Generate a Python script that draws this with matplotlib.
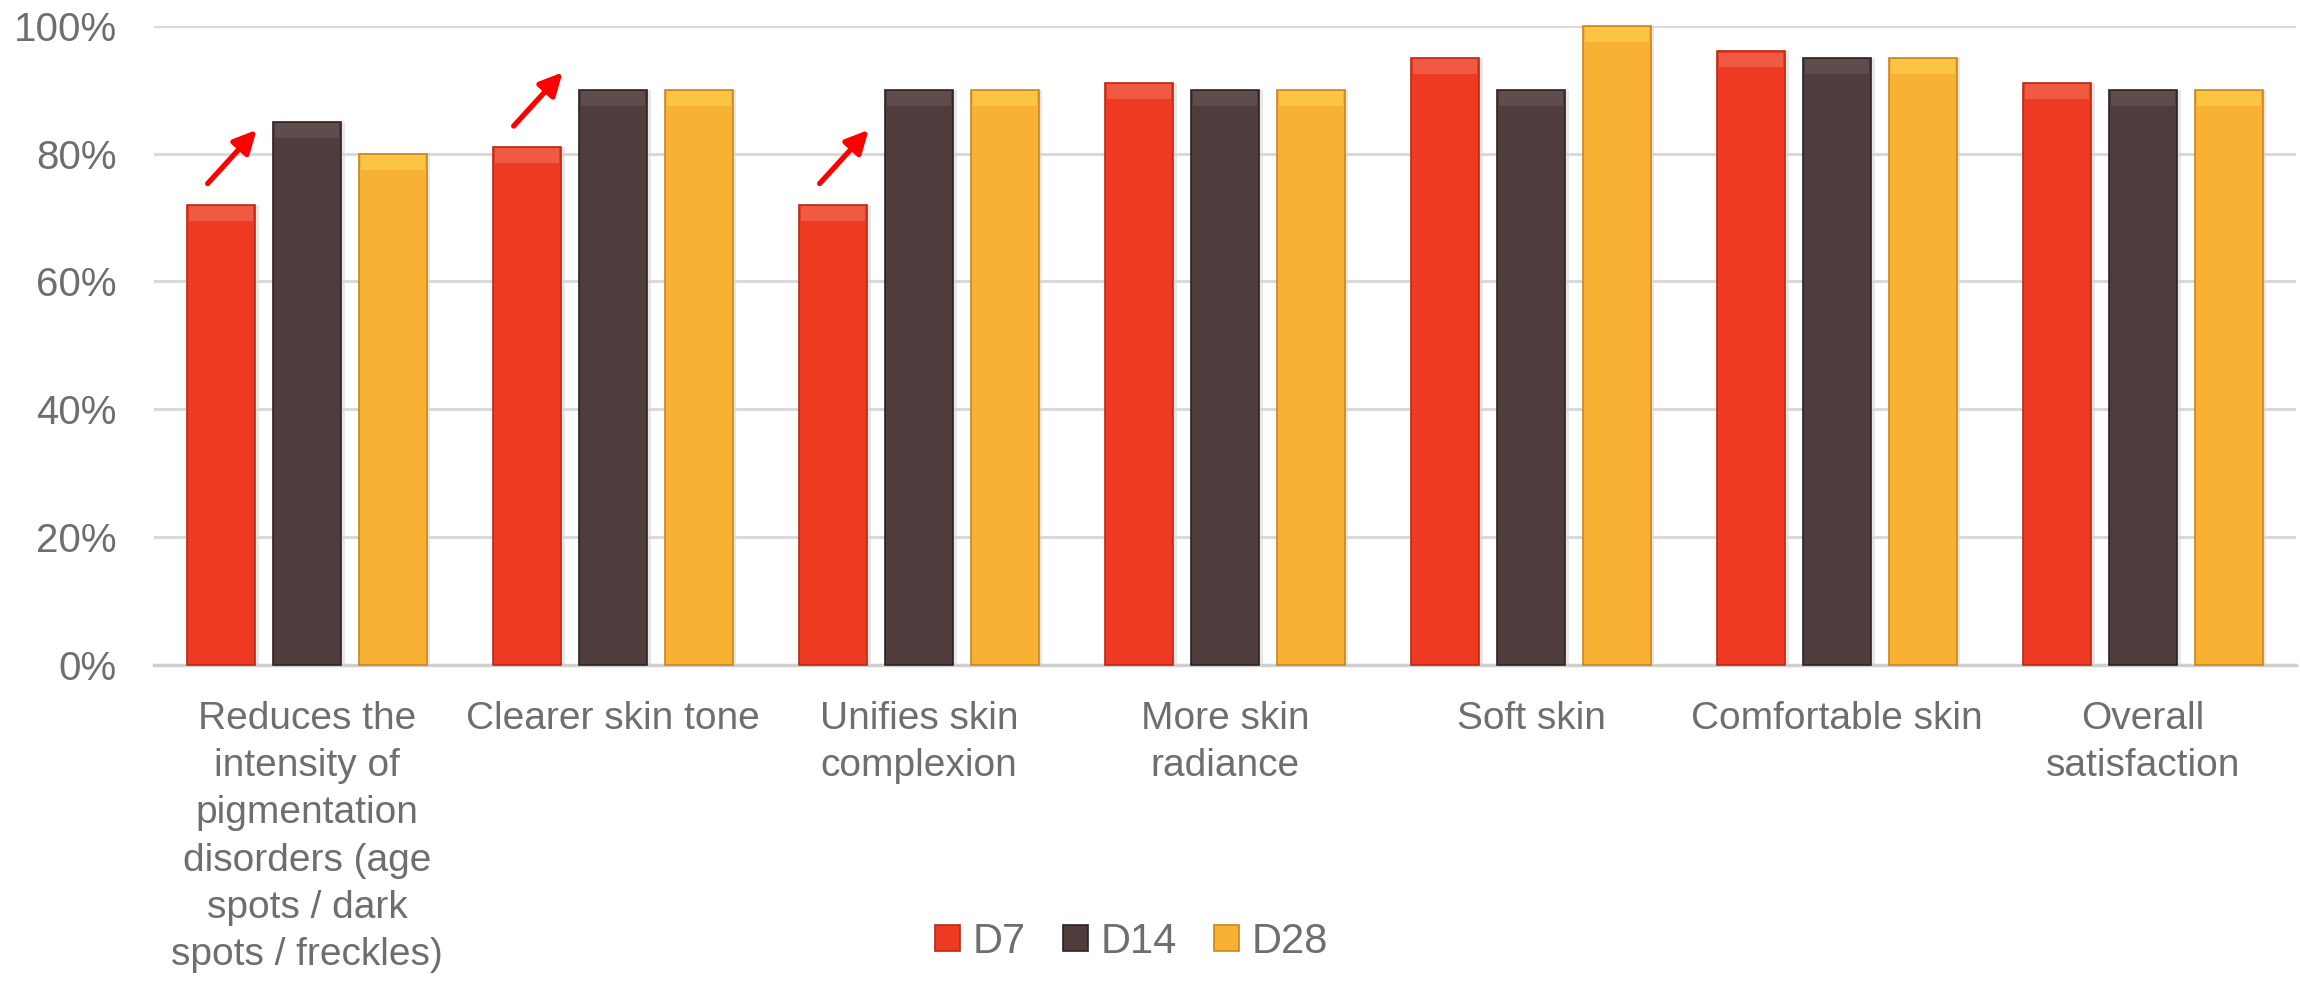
import numpy as np
import matplotlib.pyplot as plt

# Données (% de satisfaction)
categories = ['Reduces the\nintensity of\npigmentation\ndisorders (age\nspots / dark\nspots / freckles)',
              'Clearer skin tone', 'Unifies skin\ncomplexion', 'More skin\nradiance',
              'Soft skin', 'Comfortable skin', 'Overall\nsatisfaction']
series = ['D7', 'D14', 'D28']
d7 = [72, 81, 72, 91, 95, 96, 91]
d14 = [85, 90, 90, 90, 90, 95, 90]
d28 = [80, 90, 90, 90, 100, 95, 90]
arrow_groups = [0, 1, 2]  # groupes avec une flèche rouge

colors = ['#ee3a23', '#4f3c3d', '#f8b133']
tops = ['#f05a42', '#5f4c4d', '#fac545']
edges = ['#b82a16', '#2e2223', '#c9861c']
text_color = '#6e6e6e'

plt.rcParams['font.family'] = ['Liberation Sans', 'DejaVu Sans']

fig = plt.figure(figsize=(23, 9.84), dpi=100)
ax = fig.add_axes([0.067, 0.3242, 0.9313, 0.6497])

x = np.arange(len(categories))
width = 0.222
step = 0.28
for i, vals in enumerate([d7, d14, d28]):
    pos = x + (i - 1) * step
    # ombre légère
    ax.bar(pos + 0.012, vals, width, color='#d8d8d8', alpha=0.6, zorder=2, clip_on=False)
    ax.bar(pos, vals, width, color=colors[i], edgecolor=edges[i], linewidth=1.2,
           zorder=3, clip_on=False, label=series[i])
    # biseau en haut de chaque barre
    ax.bar(pos, [2.3] * len(vals), width * 0.94, bottom=np.array(vals) - 2.5,
           color=tops[i], linewidth=0, zorder=4, clip_on=False)

for g in arrow_groups:
    x0 = x[g] - 0.325
    x1 = x[g] - 0.165
    ax.annotate('', xy=(x1, d7[g] + 11.7), xytext=(x0, d7[g] + 3.3),
                arrowprops=dict(arrowstyle='-|>', color='#ff0000', lw=3.8,
                                mutation_scale=34, shrinkA=0, shrinkB=0),
                zorder=6, annotation_clip=False)

ax.set_xlim(-0.5, len(categories) - 0.5)
ax.set_ylim(0, 100)
ax.set_yticks([0, 20, 40, 60, 80, 100])
ax.set_yticklabels(['0%', '20%', '40%', '60%', '80%', '100%'])
ax.yaxis.grid(True, color='#d9d9d9', linewidth=2.2, zorder=0)
ax.set_axisbelow(True)
for s in ['top', 'right', 'left']:
    ax.spines[s].set_visible(False)
ax.spines['bottom'].set_color('#cfcfcf')
ax.spines['bottom'].set_linewidth(2.5)

ax.set_xticks(x)
ax.set_xticklabels(categories, fontsize=28, color=text_color, linespacing=1.40, va='top')
ax.tick_params(axis='x', length=0, pad=26)
ax.tick_params(axis='y', length=0, pad=27, labelsize=29, labelcolor=text_color)

leg = fig.legend(loc='center', bbox_to_anchor=(0.492, 0.043), ncol=3, frameon=False,
                 fontsize=30, handlelength=0.6, handleheight=0.6, handletextpad=0.3,
                 columnspacing=0.9, labelcolor=text_color)

plt.savefig('out.png')
